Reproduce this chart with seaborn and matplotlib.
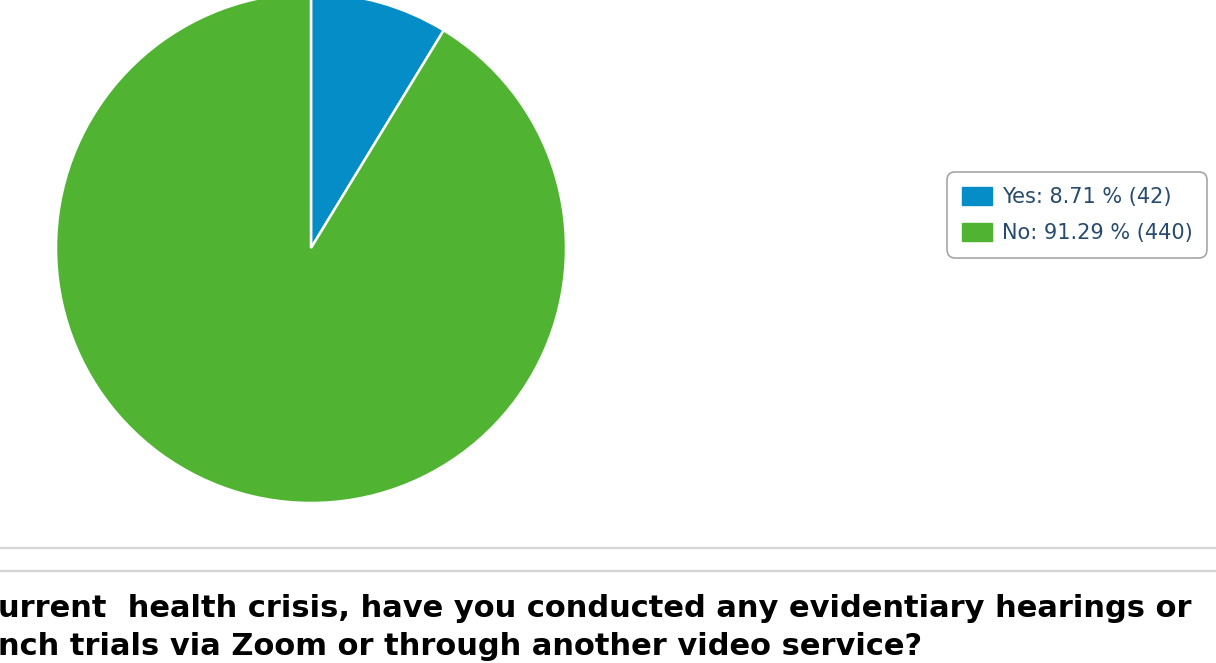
import matplotlib
matplotlib.use("Agg")
import matplotlib.pyplot as plt
from matplotlib.patches import Patch
import seaborn as sns

categories = ["Yes", "No"]
percents = [8.71, 91.29]
counts = [42, 440]
colors = ["#058DC7", "#50B432"]
title_lines = [
    "urrent  health crisis, have you conducted any evidentiary hearings or",
    "nch trials via Zoom or through another video service?",
]

sns.set_theme(style="white")
plt.rcParams["font.family"] = ["DejaVu Sans"]

W, H = 1216, 663
fig = plt.figure(figsize=(W / 100, H / 100), dpi=100)
fig.patch.set_facecolor("white")

cx, cy, r = 311, 248, 255
ax = fig.add_axes([(cx - r) / W, (H - cy - r) / H, 2 * r / W, 2 * r / H])
ax.pie(counts, colors=colors, startangle=90, counterclock=False, radius=1.0,
       wedgeprops=dict(edgecolor="white", linewidth=1.8))
ax.set_xlim(-1, 1)
ax.set_ylim(-1, 1)
ax.set_aspect("equal")
ax.axis("off")

labels = [f"{c}: {p:.2f} % ({n})" for c, p, n in zip(categories, percents, counts)]
handles = [Patch(facecolor=col, edgecolor=col) for col in colors]
leg = fig.legend(handles, labels, loc="upper left",
                 bbox_to_anchor=(947 / W, 1 - 172 / H),
                 fontsize=15, frameon=True, fancybox=True,
                 handlelength=1.45, handleheight=0.95, handletextpad=0.45,
                 labelspacing=0.74, borderpad=0.72, borderaxespad=0.0)
frame = leg.get_frame()
frame.set_edgecolor("#909090")
frame.set_linewidth(1.2)
frame.set_boxstyle("round,pad=0,rounding_size=0.4")
for t in leg.get_texts():
    t.set_color("#274b6d")

# separator lines
for y in (548, 571):
    fig.add_artist(plt.Line2D([0, 1], [1 - y / H, 1 - y / H], transform=fig.transFigure,
                              color="#d4d4d4", linewidth=1.6))

# bottom question text
for i, line in enumerate(title_lines):
    fig.text(-2 / W, 1 - (617 + 38 * i) / H, line, fontsize=22, fontweight="bold",
             color="black", ha="left", va="baseline")

fig.savefig("out.png", dpi=100, facecolor="white")
